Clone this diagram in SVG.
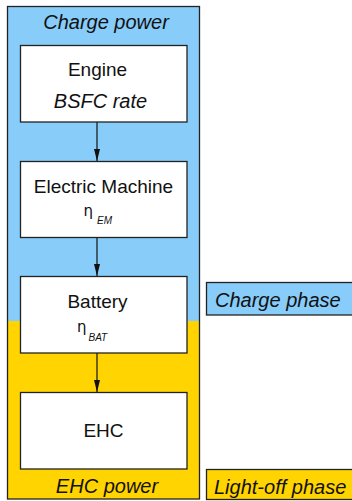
<svg xmlns="http://www.w3.org/2000/svg" width="352" height="501" viewBox="0 0 352 501">
<defs>
<style>
.box{fill:#ffffff;stroke:#222;stroke-width:1.3}
.t{font-family:"Liberation Sans",Arial,sans-serif;font-size:19px;fill:#111;text-anchor:middle}
.i{font-style:italic;font-size:20px}
.s{text-anchor:start}
.sub{font-family:"Liberation Sans",Arial,sans-serif;font-size:10px;font-style:italic;fill:#111}
.eta{font-family:"DejaVu Sans",sans-serif;font-size:15px;fill:#111}
.c{stroke:#111;stroke-width:1.2;fill:none;marker-end:url(#ah)}
</style>
<marker id="ah" markerWidth="12" markerHeight="10" refX="12" refY="5" orient="auto" markerUnits="userSpaceOnUse">
<path d="M0,2 L12,5 L0,8 Z" fill="#111"/>
</marker>
</defs>
<g id="background">
<rect x="7.5" y="6.5" width="192" height="315" fill="#88CCFA"/>
<rect x="7.5" y="321" width="192" height="178" fill="#FFD400"/>
<rect x="7.5" y="6.5" width="192" height="492.5" fill="none" stroke="#222" stroke-width="1.3"/>
<text class="t i" x="106" y="29">Charge power</text>
<text class="t i" x="107" y="493">EHC power</text>
</g>
<g id="connectors">
<line class="c" x1="97" y1="122" x2="97" y2="161"/>
<line class="c" x1="97" y1="237" x2="97" y2="276"/>
<line class="c" x1="97" y1="353" x2="97" y2="392"/>
</g>
<g id="engine">
<rect class="box" x="20.5" y="45.5" width="166.5" height="76.5"/>
<text class="t" x="97.5" y="76">Engine</text>
<text class="t i" x="100.5" y="108">BSFC rate</text>
</g>
<g id="em">
<rect class="box" x="20.5" y="161.5" width="166.5" height="76"/>
<text class="t" x="103.5" y="193">Electric Machine</text>
<text class="eta" x="83.5" y="216">η</text>
<text class="sub" x="97" y="224">EM</text>
</g>
<g id="battery">
<rect class="box" x="20.5" y="276.5" width="166.5" height="76.5"/>
<text class="t" x="97.5" y="308">Battery</text>
<text class="eta" x="77" y="332">η</text>
<text class="sub" x="88.5" y="341">BAT</text>
</g>
<g id="ehc">
<rect class="box" x="20.5" y="392.5" width="166.5" height="76.5"/>
<text class="t" x="103.5" y="437">EHC</text>
</g>
<g id="charge-phase">
<rect x="206.5" y="282.5" width="150" height="32.5" fill="#88CCFA" stroke="#222" stroke-width="1.3"/>
<text class="t i s" x="215" y="307">Charge phase</text>
</g>
<g id="lightoff-phase">
<rect x="206.5" y="469.5" width="150" height="30" fill="#FFD400" stroke="#222" stroke-width="1.3"/>
<text class="t i s" x="214" y="494">Light-off phase</text>
</g>
</svg>
